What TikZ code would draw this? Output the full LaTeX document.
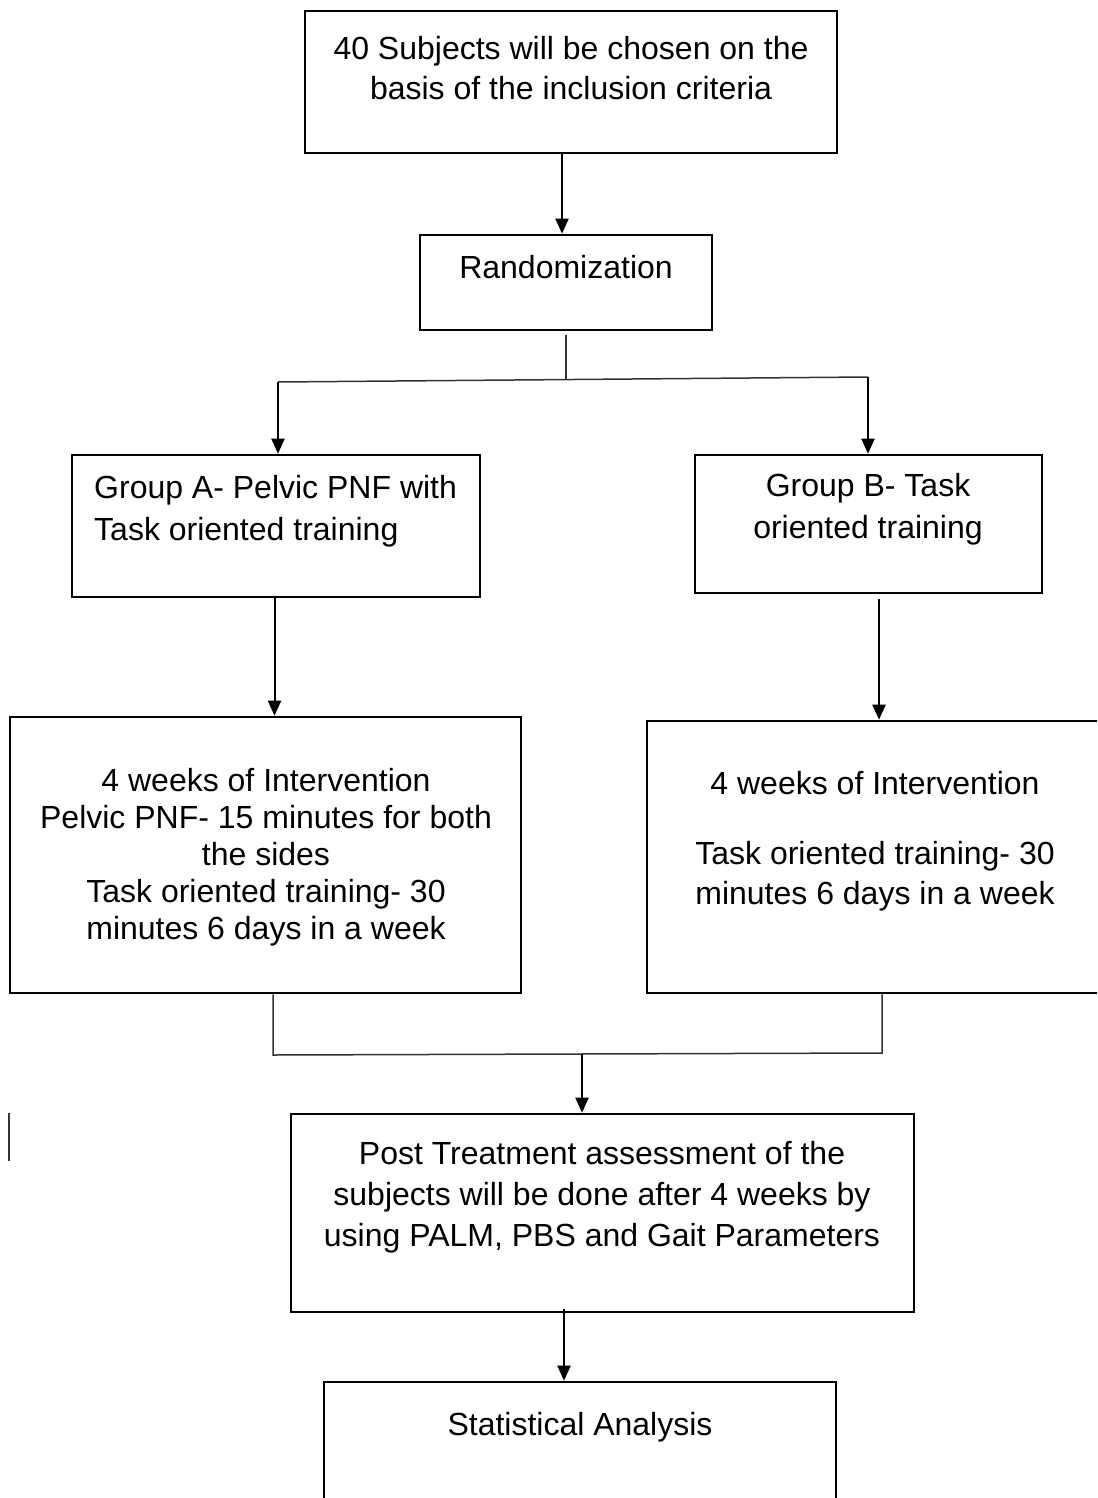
\documentclass[tikz,border=0pt]{standalone}
\usepackage{fontspec}
\setmainfont{Liberation Sans}
\usetikzlibrary{arrows.meta}
\begin{document}
\begin{tikzpicture}[x=1pt,y=-1pt,
  boxnode/.style={draw=black, line width=2.6pt, inner sep=0pt, fill=none},
  txt/.style={inner sep=0pt, align=center, font=\fontsize{32}{40}\selectfont},
  txtb/.style={inner sep=0pt, align=center, font=\fontsize{32}{42}\selectfont},
  txtc/.style={inner sep=0pt, align=center, font=\fontsize{32}{37}\selectfont},
  arr/.style={line width=2pt, -{Triangle[length=15pt,width=13pt]}},
  thinline/.style={line width=1.5pt, black!80}]
\useasboundingbox (0,0) rectangle (1097,1498);
\clip (0,0) rectangle (1097,1498);
\fill[white] (0,0) rectangle (1097,1498);

% boxes
\node[boxnode, minimum width=532pt, minimum height=142pt] (b1) at (571,82) {};
\node[boxnode, minimum width=292pt, minimum height=95pt] (rand) at (566,282.5) {};
\node[boxnode, minimum width=408pt, minimum height=142pt] (ga) at (276,526) {};
\node[boxnode, minimum width=347pt, minimum height=138pt] (gb) at (868.5,524) {};
\node[boxnode, minimum width=511pt, minimum height=276pt] (la) at (265.5,855) {};
\node[boxnode, minimum width=503pt, minimum height=272pt] (lb) at (898.5,857) {};
\node[boxnode, minimum width=623pt, minimum height=198pt] (post) at (602.5,1213) {};
\node[boxnode, minimum width=512pt, minimum height=178pt] (stat) at (580,1471) {};

% texts
\node[txt] (t1) at (571,68) {40 Subjects will be chosen on the\\basis of the inclusion criteria};
\node[txt] (t2) at (566,267) {Randomization};
\node[txtb, align=left, anchor=west] (t3) at (94,511) {Group A- Pelvic PNF with\\Task oriented training};
\node[txtb] (t4) at (868,509) {Group B- Task\\oriented training};
\node[txtc] (t5) at (266,857) {4 weeks of Intervention\\Pelvic PNF- 15 minutes for both\\the sides\\Task oriented training- 30\\minutes 6 days in a week};
\node[txt] (t6) at (875,841) {4 weeks of Intervention\\[30pt]Task oriented training- 30\\minutes 6 days in a week};
\node[txt, font=\fontsize{32}{41}\selectfont] (t7) at (602,1197) {Post Treatment assessment of the\\subjects will be done after 4 weeks by\\using PALM, PBS and Gait Parameters};
\node[txt] (t8) at (580,1427) {Statistical Analysis};

% connectors
\draw[arr] ([xshift=-9pt]b1.south) -- ([xshift=-4pt]rand.north);
\coordinate (jm) at (566,379.5);
\coordinate (jl) at (278,382);
\coordinate (jr) at (868,377);
\draw[thinline] ([yshift=-4pt]rand.south) -- (jm);
\draw[thinline] (jl) -- (jr);
\draw[arr] (jl) -- (jl |- ga.north);
\draw[arr] (jr) -- (jr |- gb.north);

\draw[arr] ([xshift=-1.5pt]ga.south) -- ([xshift=-1.5pt]ga.south |- la.north);
\draw[arr] ([xshift=10.5pt, yshift=-5pt]gb.south) -- ([xshift=10.5pt]gb.south |- lb.north);

\coordinate (cl) at (273,1055);
\coordinate (cr) at (882,1053);
\draw[thinline] (la.south -| cl) -- (cl) -- (cr) -- (lb.south -| cr);
\coordinate (cm) at (582,1054);
\draw[arr] (cm) -- (cm |- post.north);
\draw[arr] ([xshift=-38.5pt, yshift=4pt]post.south) -- ([xshift=-38.5pt]post.south |- stat.north);

% stray mark
\coordinate (s1) at (9,1113);
\coordinate (s2) at (9,1161);
\draw[line width=1.8pt, black!80] (s1) -- (s2);
\end{tikzpicture}
\end{document}
